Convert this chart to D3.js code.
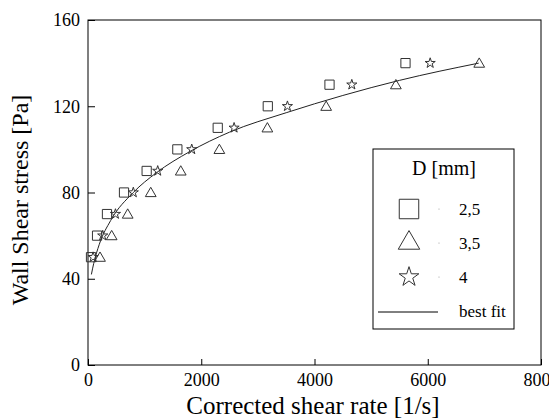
<!DOCTYPE html>
<html>
<head>
<meta charset="utf-8">
<style>
body { margin: 0; background: #fff; }
text { font-family: "Liberation Serif", "Times New Roman", serif; fill: #000; }
.tick text { font-size: 18px; font-family: "Liberation Serif", serif; }
.axis path, .axis line { stroke: #000; }
.mark { fill: none; stroke: #333; stroke-width: 1; }
</style>
<script src="https://d3js.org/d3.v7.min.js"></script>
</head>
<body>
<script>
// values
var levels = [50, 60, 70, 80, 90, 100, 110, 120, 130, 140];   // wall shear stress, Pa
var rateD25 = [53, 160, 335, 636, 1036, 1578, 2291, 3175, 4265, 5607];
var rateD35 = [212, 418, 701, 1108, 1638, 2320, 3168, 4206, 5437, 6909];
var rateD4  = [90, 260, 485, 800, 1231, 1832, 2580, 3522, 4659, 6043];
var fitRate   = [60, 100, 200, 400, 800, 1200, 1800, 2500, 3500, 4500, 5500, 6900];
var fitStress = [42, 47, 56, 67, 80, 89, 99, 108, 117, 125, 132, 140];
var xTicks = [0, 2000, 4000, 6000, 8000];
var yTicks = [0, 40, 80, 120, 160];

var width = 549, height = 419;
var margin = {left: 88, right: 8, top: 20, bottom: 54};

var svg = d3.select("body").append("svg")
	.attr("width", width)
	.attr("height", height);

var x = d3.scaleLinear().domain([0, 8000]).range([margin.left, width - margin.right]);
var y = d3.scaleLinear().domain([0, 160]).range([height - margin.bottom, margin.top]);

// frame
svg.append("rect")
	.attr("x", x(0)).attr("y", y(160))
	.attr("width", x(8000) - x(0)).attr("height", y(0) - y(160))
	.attr("fill", "none").attr("stroke", "#000");

// axes with inward ticks
svg.append("g").attr("class", "axis")
	.attr("transform", "translate(0," + y(0) + ")")
	.call(d3.axisBottom(x).tickValues(xTicks).tickFormat(d3.format("d"))
		.tickSizeInner(-6).tickSizeOuter(0).tickPadding(8))
	.call(function(g) { g.select(".domain").remove(); });

svg.append("g").attr("class", "axis")
	.attr("transform", "translate(" + x(0) + ",0)")
	.call(d3.axisLeft(y).tickValues(yTicks).tickFormat(d3.format("d"))
		.tickSizeInner(-7).tickSizeOuter(0).tickPadding(8))
	.call(function(g) { g.select(".domain").remove(); });

// titles
svg.append("text")
	.attr("x", 313).attr("y", 414)
	.attr("text-anchor", "middle").style("font-size", "25px")
	.text("Corrected shear rate [1/s]");

svg.append("text")
	.attr("transform", "translate(28,200) rotate(-90)")
	.attr("text-anchor", "middle").style("font-size", "24px")
	.text("Wall Shear stress [Pa]");

// best fit
var fit = fitRate.map(function(r, i) { return [r, fitStress[i]]; });
svg.append("path")
	.datum(fit)
	.attr("fill", "none").attr("stroke", "#222").attr("stroke-width", 1)
	.attr("d", d3.line().x(function(d) { return x(d[0]); }).y(function(d) { return y(d[1]); }).curve(d3.curveMonotoneX));

var symSquare = d3.symbol().type(d3.symbolSquare);
var symTri = d3.symbol().type(d3.symbolTriangle);
var symStar = d3.symbol().type(d3.symbolStar);

function series(rates, sym, size, dy) {
	svg.append("g").selectAll("path")
		.data(rates)
		.enter().append("path")
		.attr("class", "mark")
		.attr("transform", function(d, i) { return "translate(" + x(d) + "," + (y(levels[i]) + dy) + ")"; })
		.attr("d", sym.size(size)());
}
series(rateD25, symSquare, 85, 0);
series(rateD35, symTri, 50, 1);
series(rateD4, symStar, 32, 0);

// legend
var lg = svg.append("g").attr("transform", "translate(373,149)");
lg.append("rect").attr("width", 141).attr("height", 180)
	.attr("fill", "#fff").attr("stroke", "#000");
lg.append("text").attr("x", 71).attr("y", 26).attr("text-anchor", "middle")
	.style("font-size", "20px").text("D [mm]");

var legendItems = [
	{label: "2,5", sym: symSquare, size: 380},
	{label: "3,5", sym: symTri, size: 200},
	{label: "4", sym: symStar, size: 120}
];
legendItems.forEach(function(it, i) {
	var cy = 60 + i * 34;
	lg.append("path").attr("class", "mark")
		.attr("transform", "translate(36," + cy + ")")
		.attr("d", it.sym.size(it.size)());
	lg.append("circle").attr("cx", 66).attr("cy", cy).attr("r", 0.6).attr("fill", "#999");
	lg.append("text").attr("x", 86).attr("y", cy + 6).style("font-size", "17px").text(it.label);
});
lg.append("line").attr("x1", 5).attr("x2", 65).attr("y1", 163).attr("y2", 163)
	.attr("stroke", "#000");
lg.append("text").attr("x", 86).attr("y", 168).style("font-size", "17px").text("best fit");
</script>
</body>
</html>
